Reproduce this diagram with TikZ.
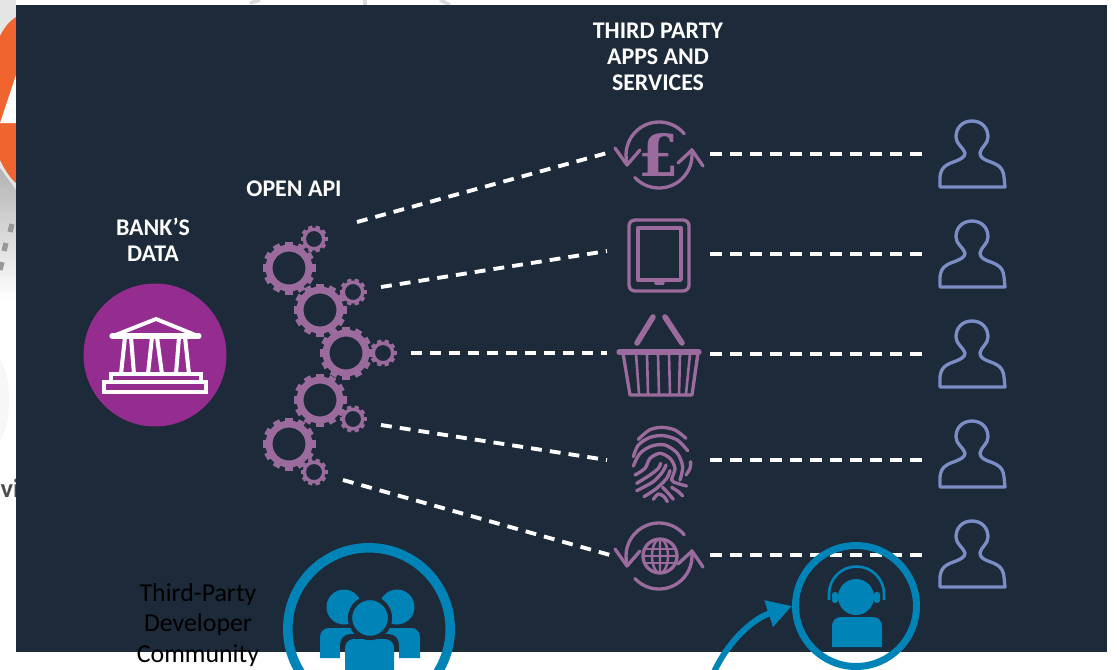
\documentclass[tikz,border=0pt]{standalone}
\usepackage{fontspec}
\setmainfont{Carlito}
\newfontfamily\poundfont{DejaVu Serif}
\usepackage{xcolor}
\usetikzlibrary{arrows.meta}
\definecolor{panel}{HTML}{1C2A39}
\definecolor{cog}{HTML}{9A6B9C}
\definecolor{bankpurple}{HTML}{952D91}
\definecolor{person}{HTML}{7C8CC4}
\definecolor{teal}{HTML}{0084B8}
\definecolor{flame}{HTML}{F0652F}
\tikzset{
  head/.style={text=white, font=\bfseries\fontsize{13.6}{14.8}\selectfont, align=center, inner sep=0pt},
  dim/.style={text=black, font=\fontsize{14.7}{17.4}\selectfont, align=center, inner sep=0pt},
  dashA/.style={draw=white, line width=2.2pt, dash pattern=on 6.2pt off 4.6pt},
  dashB/.style={draw=white, line width=2.6pt, dash pattern=on 6.8pt off 4.6pt},
  icon/.style={draw=cog, line width=1.9pt, line cap=round, line join=round},
  ring/.style={circle, draw=teal, inner sep=0pt},
  pics/bigcog/.style={code={
    \fill[cog, even odd rule] (0,0) circle (16.5) circle (23.5);
    \foreach \a in {0,30,...,330} \draw[cog, line width=4pt] (\a:22) -- (\a:26.5);
  }},
  pics/smallcog/.style={code={
    \fill[cog, even odd rule] (0,0) circle (8) circle (11.5);
    \foreach \a in {0,36,...,324} \draw[cog, line width=2.5pt] (\a:11) -- (\a:13.5);
  }},
  pics/client/.style={code={
    \draw[draw=person, line width=1.9pt, line join=round, yscale=-1]
      (0,2) .. controls (10,2) and (16,9) .. (16,18)
      .. controls (16,25) and (9,28) .. (8,34)
      .. controls (8,38) and (11,40) .. (16,42)
      .. controls (24,45) and (31,47) .. (32,58) -- (33,68) -- (-32,68) -- (-32,58)
      .. controls (-31,47) and (-24,45) .. (-16,42)
      .. controls (-11,40) and (-7,38) .. (-7,34)
      .. controls (-9,28) and (-16,25) .. (-16,18)
      .. controls (-16,9) and (-10,2) .. (0,2) -- cycle;
  }},
  pics/swap/.style={code={
    \begin{scope}[yscale=-1]
      \draw[icon] (-40:33) arc (-40:-197:33);
      \draw[icon] (-44,-7) -- (-32,10) -- (-19,-5);
      \draw[icon] (-223:33) arc (-223:-369:33);
      \draw[icon] (19,8) -- (33,-5) -- (44,11);
    \end{scope}
  }},
}
\begin{document}
\begin{tikzpicture}[x=0.02cm,y=0.02cm,yscale=-1]
  \useasboundingbox (0,0) rectangle (1117,670);
  \fill[white] (0,0) rectangle (1117,670);

  % what shows of the page behind the panel
  \fill[black!10] (0,0) rectangle (16,190);
  \fill[flame] (16,17) .. controls (8,22) and (3,30) .. (0,36) -- (0,160) .. controls (5,170) and (10,178) .. (16,183) -- cycle;
  \fill[white] (16,75) -- (0,123) -- (16,123) -- cycle;
  \shade[top color=black!30, bottom color=white] (0,168) -- (16,190) -- (16,300) -- (0,300) -- cycle;
  \draw[black!40, line width=3pt] (12,224) -- (10,232) (6,243) -- (4,251) (2,262) -- (0,270);
  \fill[black!3] (0,360) .. controls (12,375) and (12,425) .. (0,440) -- cycle;
  \draw[black!15, line width=2pt] (250,3) -- (260,0) (365,0) -- (365,5) (440,0) -- (450,5);
  \node[inner sep=0pt, text=black!70, font=\bfseries\fontsize{15}{15}\selectfont, anchor=east] (edge) at (20,488) {vi};

  \fill[panel] (16,5) rectangle (1107,652);

  % labels
  \node[head] (bankhead) at (153,240) {BANK’S\\DATA};
  \node[head] (apihead) at (294,189) {OPEN API};
  \node[head] (apphead) at (658,57) {THIRD PARTY\\APPS AND\\SERVICES};
  \node[dim] (devhead) at (198,625) {Third-Party\\Developer\\Community};

  % bank
  \node[circle, fill=bankpurple, minimum size=2.86cm, inner sep=0pt] (bank) at (155,355) {};
  \draw[white, line width=2.2pt, line join=round] (113,336) -- (156,319) -- (198,336) -- cycle;
  \draw[white, line width=3pt, line cap=round] (112,336) -- (199,336);
  \foreach \ta/\ba/\tb/\bb in {125/121/131/134, 152/148/157/162, 179/176/185/189} {
    \draw[white, line width=2.3pt] (\ta,337) -- (\ba,374) (\tb,337) -- (\bb,374);
  }
  \draw[white, line width=2.2pt] (111,374) rectangle (201,382);
  \draw[white, line width=2.2pt] (104,382) rectangle (206,392);

  % cogs
  \pic at (289,268) {bigcog};
  \pic at (314,239) {smallcog};
  \pic at (320,310) {bigcog};
  \pic at (353,292) {smallcog};
  \pic at (346,353) {bigcog};
  \pic at (383,353) {smallcog};
  \pic at (320,400) {bigcog};
  \pic at (353,419) {smallcog};
  \pic at (289,444) {bigcog};
  \pic at (314,472) {smallcog};

  % dashed links
  \coordinate (apiA) at (357,222);
  \coordinate (apiB) at (381,287);
  \coordinate (apiC) at (411,353);
  \coordinate (apiD) at (381,425);
  \coordinate (apiE) at (343,480);
  \coordinate (appA) at (607,153);
  \coordinate (appB) at (607,251);
  \coordinate (appC) at (607,353);
  \coordinate (appD) at (607,460);
  \coordinate (appE) at (610,555);
  \draw[dashA] (apiA) -- (appA);
  \draw[dashA] (apiB) -- (appB);
  \draw[dashA] (apiC) -- (appC);
  \draw[dashA] (apiD) -- (appD);
  \draw[dashA] (apiE) -- (appE);
  \foreach \n/\y in {A/154,B/254,C/354,D/460,E/555} {
    \coordinate (svc\n) at (710,\y);
    \coordinate (usr\n) at (924,\y);
    \draw[dashB] (svc\n) -- (usr\n);
  }

  % service icons
  \pic at (659,155) {swap};
  \node[inner sep=0pt, text=cog, font=\poundfont\bfseries\fontsize{33}{33}\selectfont] (pound) at (659,155) {£};

  \draw[icon, rounded corners=3.4pt] (629,220) rectangle (689,291);
  \draw[icon] (638,228) rectangle (681,280);
  \draw[icon] (656,283) -- (663,283);

  \draw[icon, line width=3.2pt] (637,343) -- (653,317);
  \draw[icon, line width=3.2pt] (665,317) -- (682,343);
  \draw[icon, line width=3pt] (619,352) -- (699,352);
  \draw[icon] (623,353) -- (630,395) -- (692,395) -- (698,353);
  \foreach \a/\b in {636/639,647/648,658/659,669/670,680/679,690/686} {
    \draw[icon, line width=1.5pt] (\a,354) -- (\b,394);
  }

  \begin{scope}[shift={(590,400)}, scale=1/3]
    \draw[icon] plot[smooth] coordinates {(145,118) (178,90) (215,82) (255,90) (288,115)};
    \draw[icon] plot[smooth] coordinates {(130,170) (145,135) (180,112) (220,107) (262,120) (293,152)};
    \draw[icon] plot[smooth] coordinates {(302,185) (300,205) (288,225)};
    \draw[icon] plot[smooth] coordinates {(130,198) (150,160) (185,138) (225,135) (262,160) (278,200) (270,240)};
    \draw[icon] plot[smooth] coordinates {(135,225) (165,205) (180,175) (210,160) (240,175) (255,205) (245,240) (262,250) (290,258)};
    \draw[icon] plot[smooth] coordinates {(140,250) (180,225) (205,205) (212,190)};
    \draw[icon] plot[smooth] coordinates {(140,272) (190,245) (218,215) (228,195)};
    \draw[icon] plot[smooth] coordinates {(162,290) (200,265) (230,235) (240,212)};
    \draw[icon] plot[smooth] coordinates {(190,298) (205,282) (222,290) (232,305)};
    \draw[icon] plot[smooth] coordinates {(218,262) (235,280) (250,298)};
    \draw[icon] plot[smooth] coordinates {(245,262) (265,275) (278,288)};
  \end{scope}

  \pic at (659,556) {swap};
  \begin{scope}[shift={(660,556)}]
    \draw[icon, line width=1.9pt] (0,0) circle (17);
    \draw[icon, line width=1.4pt] (0,0) ellipse (8 and 17) (0,-17) -- (0,17);
    \draw[icon, line width=1.4pt] (-15,-7) -- (15,-7) (-17,0) -- (17,0) (-15,7) -- (15,7);
  \end{scope}

  % users
  \pic at (972,119) {client};
  \pic at (972,219) {client};
  \pic at (972,319) {client};
  \pic at (972,419) {client};
  \pic at (972,519) {client};

  % developer community
  \node[ring, line width=5.4pt, minimum size=3.25cm] (community) at (369,629) {};
  \fill[teal] (344,607) circle (17.5);
  \fill[teal] (397,607) circle (17.5);
  \fill[teal] (320,658) [rounded corners=5pt] -- (320,628) -- (420,628) [sharp corners] -- (420,658) -- cycle;
  \fill[panel] (340,652) [rounded corners=6pt] -- (340,634) -- (399,634) [sharp corners] -- (399,652) -- cycle;
  \fill[white] (340,652) rectangle (399,670);
  \fill[teal] (345,670) [rounded corners=5pt] -- (345,639) -- (394,639) [sharp corners] -- (394,670) -- cycle;
  \draw[panel, line width=2.4pt, fill=teal] (370,618) circle (20);

  % support
  \node[ring, line width=3.98pt, minimum size=2.42cm] (support) at (856,606) {};
  \fill[teal] (856,597) circle (18);
  \draw[teal, line width=1.5pt] (829,600) -- (829,594) arc (180:360:27.5) -- (884,600);
  \fill[teal, rounded corners=1.5pt] (832,592) rectangle (838,603);
  \fill[teal, rounded corners=1.5pt] (874,592) rectangle (880,603);
  \fill[teal] (832,647) [rounded corners=5pt] -- (832,617) -- (882,617) [sharp corners] -- (882,647) -- cycle;
  \coordinate (dev) at (714,672);
  \draw[teal, line width=3.4pt, -{Triangle[length=14pt,width=15pt]}] (dev) .. controls (730,638) and (755,618) .. (support.west);
\end{tikzpicture}
\end{document}
